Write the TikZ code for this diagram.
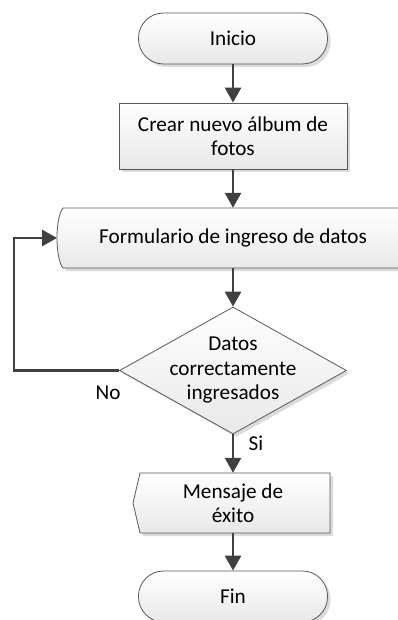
\documentclass[tikz,border=0pt]{standalone}
\usepackage{fontspec}
\setmainfont{Carlito}
\usetikzlibrary{arrows.meta,shadows,shapes.geometric}
\begin{document}
\begin{tikzpicture}[x=1pt,y=-1pt,
  txt/.style={font=\fontsize{21.2}{24.5}\selectfont, text=black, align=center, inner sep=0pt},
  shp/.style={draw=black!65, line width=0.8pt, top color=white, bottom color=black!9,
    drop shadow={shadow xshift=3pt, shadow yshift=-3pt, fill=black!14, opacity=1}},
  term/.style={shp, txt, rounded corners=25pt, minimum width=189pt, minimum height=51pt},
  proc/.style={shp, txt, rectangle, minimum width=228pt, minimum height=66pt},
  decision/.style={shp, diamond, minimum width=227pt, minimum height=127pt, inner sep=0pt},
  arr/.style={draw=black!75, line width=2.8pt, -{Triangle[width=16pt,length=15pt]}},
  lbl/.style={font=\fontsize{21.2}{24.5}\selectfont, inner sep=0pt}
]
\useasboundingbox (0,0) rectangle (397,620);

% Inicio
\node[term] (ini) at (233,38.5) {Inicio};
% Crear
\node[proc] (crear) at (233,136) {Crear nuevo álbum de\\fotos};
% Formulario shape
\path[shp] (63,208) -- (420,208) -- (420,268) -- (63,268)
   .. controls (55,258) and (55,218) .. (63,208) -- cycle;
\node[txt, minimum height=60pt] (form) at (233,238) {Formulario de ingreso de datos};
\coordinate (formw) at (57,238);
% Decision
\node[decision] (dec) at (233,370.5) {};
\node[txt] (dectxt) at (dec.center) {Datos\\correctamente\\ingresados};
% Mensaje shape
\path[shp] (140,473) -- (330,473) -- (330,533) -- (140,533) -- (133,503) -- cycle;
\node[txt, minimum height=60pt] (msg) at (233,503) {Mensaje de\\éxito};
% Fin
\node[term] (fin) at (233,596.5) {Fin};

% Connectors
\draw[arr] (ini.south) -- (crear.north);
\draw[arr] (crear.south) -- (form.north);
\draw[arr] (form.south) -- (dec.north);
\draw[arr] (dec.south) -- (msg.north);
\draw[arr] (msg.south) -- (fin.north);
\draw[arr] (dec.west) -- (14,370.5) |- (formw);

% Labels
\node[lbl] (no) at (108,393) {No};
\node[lbl] (si) at (256,443) {Si};
\end{tikzpicture}
\end{document}
